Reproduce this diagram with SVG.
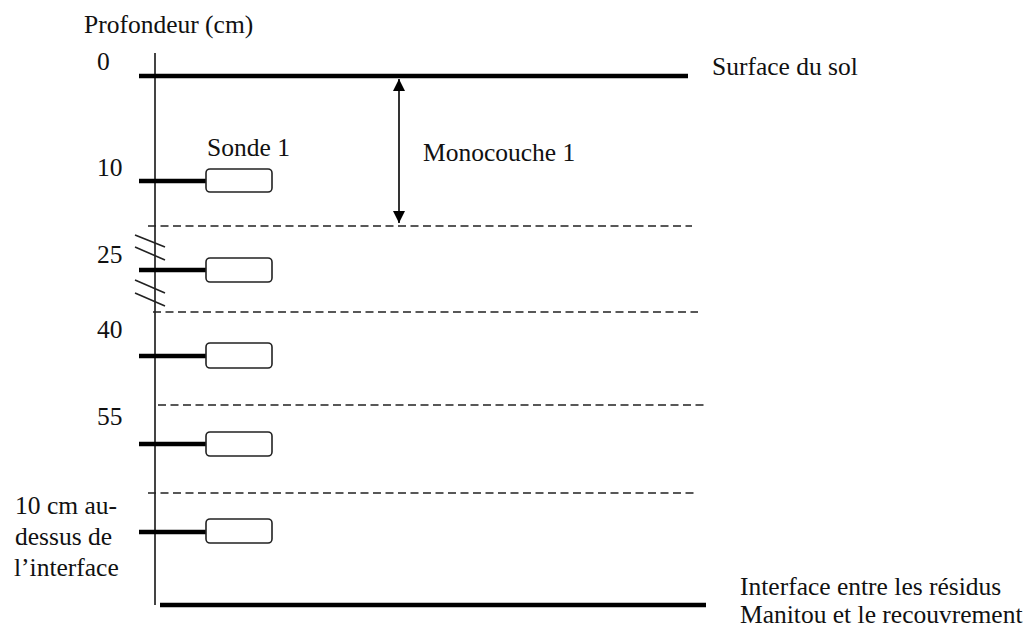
<svg xmlns="http://www.w3.org/2000/svg" width="1032" height="637" viewBox="0 0 1032 637">
<style>
text{font-family:'Liberation Serif',serif;font-size:25.5px;fill:#111}
.thick{stroke:#000;stroke-width:4.5;fill:none}
.dash{stroke:#222;stroke-width:1.6;stroke-dasharray:8 4.5;fill:none}
.probe{fill:#fff;stroke:#222;stroke-width:1.6}
.hatch{stroke:#222;stroke-width:1.6}
</style>
<defs>
<marker id="ah" viewBox="0 0 12 12" refX="12" refY="6" markerWidth="12" markerHeight="12" markerUnits="userSpaceOnUse" orient="auto-start-reverse">
<path d="M0,0 L12,6 L0,12 Z" fill="#000"/>
</marker>
</defs>
<g id="axis">
<line x1="155" y1="53" x2="155" y2="605" stroke="#444" stroke-width="2"/>
<text x="84" y="33">Profondeur (cm)</text>
</g>
<g id="surface">
<line class="thick" x1="139" y1="76" x2="688" y2="76"/>
<text x="97" y="70">0</text>
<text x="712" y="75">Surface du sol</text>
</g>
<g id="interface">
<line class="thick" x1="160" y1="605" x2="706" y2="605"/>
<text x="740" y="595">Interface entre les résidus</text>
<text x="740" y="623">Manitou et le recouvrement</text>
</g>
<g id="layers">
<line class="dash" x1="148" y1="226" x2="692" y2="226"/>
<line class="dash" x1="153" y1="312" x2="698" y2="312"/>
<line class="dash" x1="158" y1="405" x2="704" y2="405"/>
<line class="dash" x1="148" y1="493" x2="694" y2="493"/>
</g>
<g id="break-marks">
<line class="hatch" x1="135" y1="235" x2="165" y2="247"/>
<line class="hatch" x1="135" y1="247" x2="165" y2="260"/>
<line class="hatch" x1="135" y1="280" x2="165" y2="293"/>
<line class="hatch" x1="135" y1="293" x2="165" y2="306"/>
</g>
<g id="probe1">
<line class="thick" x1="139" y1="181" x2="207" y2="181"/>
<rect class="probe" x="206" y="169" width="66" height="23" rx="4"/>
<text x="207" y="156">Sonde 1</text>
<text x="97" y="176">10</text>
</g>
<g id="probe2">
<line class="thick" x1="139" y1="270" x2="207" y2="270"/>
<rect class="probe" x="206" y="258" width="66" height="24" rx="4"/>
<text x="97" y="263">25</text>
</g>
<g id="probe3">
<line class="thick" x1="139" y1="356" x2="207" y2="356"/>
<rect class="probe" x="206" y="343" width="66" height="25" rx="4"/>
<text x="97" y="338">40</text>
</g>
<g id="probe4">
<line class="thick" x1="139" y1="444" x2="207" y2="444"/>
<rect class="probe" x="206" y="432" width="66" height="24" rx="4"/>
<text x="97" y="425">55</text>
</g>
<g id="probe5">
<line class="thick" x1="139" y1="532" x2="207" y2="532"/>
<rect class="probe" x="206" y="519" width="66" height="24" rx="4"/>
<text x="15" y="514">10 cm au-</text>
<text x="15" y="545">dessus de</text>
<text x="14" y="576">l’interface</text>
</g>
<g id="connectors">
<line x1="399" y1="79" x2="399" y2="223" stroke="#000" stroke-width="1.6" marker-start="url(#ah)" marker-end="url(#ah)"/>
<text x="423" y="161">Monocouche 1</text>
</g>
</svg>
